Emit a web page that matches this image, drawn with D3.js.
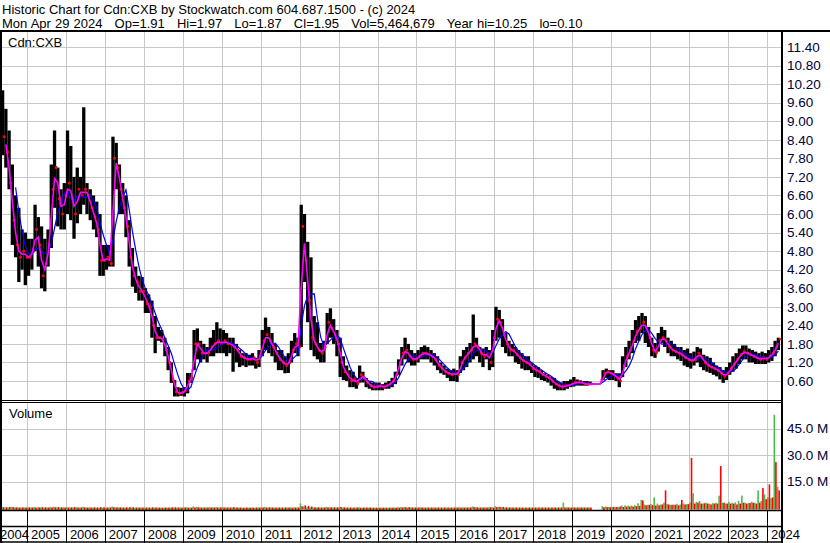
<!DOCTYPE html>
<html><head><meta charset="utf-8">
<script src="https://cdn.jsdelivr.net/npm/d3@7"></script>
<style>
html,body{margin:0;padding:0;background:#fff;}
svg{display:block;font-family:"Liberation Sans",Arial,sans-serif;}
</style></head><body>
<svg id="c" width="830" height="543"></svg>
<script>
// ---------- data (monthly, May 2004 .. Apr 2024) ----------
const startYear = 2004, startMonth = 4; // May 2004
const hi = [
 10.0,9.4,8.7,7.6,6.6,6.2,5.5,5.4,
 5.2,5.2,6.3,5.9,5.6,5.2,5.5,7.6,8.7,7.5,6.8,7.0,
 8.7,8.2,7.2,7.5,7.2,9.45,7.0,6.8,6.6,6.4,6.0,5.0,
 5.0,5.0,8.5,8.3,7.6,7.0,6.6,5.8,4.9,4.3,4.0,3.96,
 3.6,3.4,3.2,2.7,2.35,2.25,2.0,1.7,1.2,0.63,0.4,0.38,
 0.4,0.86,0.86,2.25,2.3,1.9,1.8,1.7,2.0,2.25,2.5,2.3,
 2.25,2.15,2.0,2.0,1.8,1.6,1.5,1.5,1.45,1.5,1.35,1.6,
 2.25,2.65,2.35,2.15,1.8,1.6,1.6,1.4,1.5,1.9,2.15,2.0,
 6.3,6.0,5.1,4.6,2.7,2.5,1.83,1.9,2.8,2.95,2.6,2.25,
 2.0,1.4,1.1,0.95,0.9,0.7,1.1,0.9,0.7,0.6,0.55,0.55,
 0.55,0.5,0.55,0.6,0.7,0.9,1.3,1.7,2.0,1.8,1.6,1.5,
 1.6,1.7,1.75,1.7,1.6,1.5,1.4,1.2,1.1,1.0,0.95,1.0,
 0.95,1.4,1.6,1.7,1.83,2.75,2.0,1.7,1.65,1.7,1.6,2.25,
 3.0,2.9,2.6,2.15,1.9,1.8,1.7,1.6,1.5,1.4,1.4,1.2,
 1.1,1.05,0.95,0.85,0.8,0.73,0.7,0.6,0.55,0.6,0.6,0.65,
 0.73,0.65,0.62,0.6,0.6,0.58,null,null,null,0.95,1.0,0.95,
 0.95,0.85,0.85,1.4,1.7,1.9,2.25,2.57,2.7,2.8,2.7,2.35,
 2.0,1.83,2.15,2.35,2.25,2.0,1.9,1.8,1.7,1.7,1.6,1.65,
 1.5,1.55,1.7,1.65,1.45,1.4,1.35,1.2,1.1,1.05,0.95,1.05,
 1.2,1.4,1.5,1.65,1.75,1.75,1.65,1.6,1.55,1.5,1.55,1.5,
 1.6,1.7,1.9,2.0
];
const lo = [
 7.9,7.5,6.8,5.0,4.6,3.8,4.2,3.7,
 4.0,4.2,4.8,4.3,3.6,3.5,4.3,4.9,6.2,5.6,5.5,5.5,
 6.0,5.8,5.2,5.7,6.0,6.3,6.0,5.8,5.5,5.25,4.0,4.0,
 4.2,4.3,4.3,6.8,6.0,6.0,5.25,4.3,3.65,3.45,3.2,3.2,
 2.8,2.8,2.0,1.5,1.9,1.85,1.4,0.95,0.54,0.1,0.1,0.12,
 0.1,0.2,0.54,0.95,1.3,1.2,1.3,1.2,1.4,1.4,1.5,1.5,
 1.5,1.4,1.5,0.9,1.2,1.05,1.1,1.05,1.1,1.1,1.0,1.05,
 1.4,1.6,1.5,1.4,1.2,0.95,0.95,0.85,0.86,1.2,1.5,1.4,
 1.7,3.8,2.5,1.6,1.4,1.3,1.2,1.2,1.8,2.0,1.8,1.4,
 0.73,0.63,0.6,0.4,0.4,0.35,0.55,0.55,0.4,0.35,0.3,0.3,
 0.3,0.3,0.35,0.35,0.4,0.5,0.8,1.1,1.3,1.2,1.1,1.1,
 1.2,1.3,1.3,1.3,1.2,1.1,0.95,0.85,0.8,0.7,0.6,0.6,
 0.57,0.86,0.95,1.05,1.2,1.3,1.4,1.2,1.05,1.3,0.95,1.05,
 1.9,2.0,1.7,1.5,1.4,1.4,1.2,1.15,1.0,0.95,0.95,0.86,
 0.73,0.7,0.63,0.6,0.55,0.45,0.35,0.3,0.3,0.3,0.35,0.4,
 0.42,0.45,0.45,0.45,0.45,0.48,null,null,null,0.63,0.7,0.63,
 0.63,0.6,0.4,0.73,1.05,1.3,1.5,1.83,1.9,2.15,1.83,1.7,
 1.4,1.35,1.55,1.83,1.7,1.5,1.4,1.4,1.3,1.25,1.1,1.05,
 1.0,1.1,1.2,1.05,0.95,0.9,0.86,0.8,0.75,0.65,0.54,0.63,
 0.8,0.9,1.0,1.15,1.3,1.3,1.2,1.2,1.15,1.15,1.15,1.15,
 1.2,1.25,1.4,1.6
];
const close = [
 8.5,8.0,7.0,5.8,5.0,4.6,4.8,4.6,
 4.6,4.8,5.5,5.0,4.0,4.4,5.0,6.8,7.5,6.5,6.0,6.6,
 7.0,6.5,6.0,6.8,6.6,6.8,6.6,6.2,5.9,5.5,4.5,4.5,
 4.6,4.4,7.8,7.5,6.8,6.2,5.6,4.6,4.0,3.8,3.5,3.5,
 3.1,3.0,2.4,2.0,2.0,1.95,1.6,1.2,0.7,0.25,0.2,0.22,
 0.3,0.6,0.7,1.8,1.8,1.5,1.5,1.5,1.7,1.8,1.9,1.8,
 1.9,1.8,1.8,1.7,1.6,1.4,1.35,1.3,1.3,1.35,1.2,1.4,
 1.9,2.1,1.9,1.7,1.5,1.3,1.2,1.1,1.2,1.6,1.8,1.7,
 5.6,4.5,3.2,2.0,1.8,1.6,1.5,1.7,2.5,2.3,2.1,1.8,
 1.2,0.9,0.8,0.6,0.65,0.5,0.8,0.7,0.55,0.45,0.4,0.42,
 0.45,0.4,0.45,0.5,0.6,0.8,1.2,1.5,1.6,1.4,1.3,1.3,
 1.4,1.5,1.5,1.45,1.4,1.3,1.1,1.0,0.9,0.85,0.8,0.85,
 0.8,1.2,1.35,1.5,1.6,1.8,1.7,1.5,1.4,1.5,1.2,2.0,
 2.6,2.5,2.1,1.8,1.6,1.6,1.45,1.35,1.25,1.2,1.15,1.0,
 0.95,0.9,0.8,0.75,0.7,0.6,0.5,0.45,0.4,0.45,0.45,0.5,
 0.55,0.55,0.55,0.5,0.5,0.5,0.5,0.5,0.5,0.85,0.9,0.85,
 0.8,0.7,0.6,1.1,1.4,1.6,1.9,2.2,2.3,2.5,2.3,2.0,
 1.6,1.5,1.9,2.0,1.9,1.7,1.6,1.55,1.5,1.45,1.35,1.3,
 1.25,1.3,1.5,1.35,1.2,1.1,1.05,1.0,0.95,0.85,0.75,0.85,
 1.0,1.15,1.3,1.45,1.55,1.5,1.45,1.4,1.35,1.3,1.35,1.3,
 1.4,1.5,1.7,1.95
];
// volume, millions: largest up-day and down-day bar per month
const volUp = [
 0.4,0.3,0.3,0.5,0.3,0.4,0.3,0.3,
 0.3,0.4,0.5,0.3,0.3,0.2,0.3,0.6,0.7,0.4,0.3,0.4,
 0.5,0.3,0.3,0.4,0.3,0.6,0.3,0.3,0.2,0.3,0.2,0.2,
 0.2,0.3,0.8,0.4,0.3,0.3,0.2,0.2,0.2,0.2,0.3,0.2,
 0.2,0.2,0.2,0.2,0.3,0.2,0.2,0.2,0.2,0.3,0.2,0.3,
 0.4,0.5,0.3,0.9,0.6,0.3,0.3,0.3,0.4,0.4,0.5,0.3,
 0.4,0.3,0.3,0.3,0.2,0.2,0.2,0.2,0.2,0.3,0.2,0.3,
 0.5,0.6,0.3,0.3,0.2,0.2,0.2,0.2,0.3,0.4,0.4,0.3,
 2.6,0.8,0.4,0.3,0.3,0.3,0.2,0.3,0.6,0.4,0.3,0.3,
 0.3,0.2,0.2,0.2,0.2,0.2,0.4,0.2,0.2,0.2,0.2,0.2,
 0.2,0.2,0.2,0.2,0.3,0.3,0.5,0.6,0.6,0.3,0.3,0.3,
 0.3,0.3,0.3,0.3,0.2,0.2,0.2,0.2,0.2,0.2,0.2,0.2,
 0.3,0.4,0.4,0.4,0.4,0.9,0.4,0.3,0.3,0.3,0.3,0.6,
 1.0,0.7,0.4,0.3,0.3,0.3,0.2,0.2,0.2,0.2,0.2,0.2,
 0.3,0.2,0.2,0.2,0.2,0.2,0.2,0.2,0.3,3.1,0.4,0.3,
 0.4,0.3,0.3,0.3,0.3,0.3,0,0,0,1.0,0.8,0.6,
 0.5,0.5,0.6,1.4,1.5,1.4,1.4,1.6,2.7,4.6,2.0,1.8,
 2.2,6.0,2.5,2.0,3.0,2.2,1.8,2.0,2.4,2.0,2.5,2.2,
 3.0,8.3,3.5,4.0,2.5,3.0,2.5,2.8,3.0,7.0,3.0,2.5,
 3.5,3.0,3.2,4.0,7.0,3.0,2.8,3.5,3.0,10.0,4.0,7.7,
 6.0,5.5,52.8,12.0
];
const volDown = [
 0.5,0.4,0.6,0.5,0.4,0.3,0.4,0.3,
 0.4,0.3,0.3,0.4,0.5,0.4,0.3,0.3,0.4,0.5,0.4,0.3,
 0.3,0.4,0.5,0.3,0.3,0.4,0.3,0.3,0.4,0.3,0.5,0.4,
 0.3,0.3,0.4,0.4,0.4,0.3,0.4,0.5,0.4,0.3,0.3,0.3,
 0.3,0.3,0.4,0.3,0.2,0.2,0.3,0.3,0.4,0.4,0.3,0.2,
 0.3,0.2,0.2,0.3,0.4,0.3,0.3,0.3,0.3,0.3,0.3,0.4,
 0.3,0.3,0.3,0.5,0.3,0.3,0.2,0.3,0.2,0.2,0.3,0.2,
 0.3,0.3,0.4,0.3,0.3,0.3,0.3,0.3,0.3,0.2,0.3,0.3,
 1.0,1.5,1.2,0.8,0.4,0.4,0.3,0.3,0.3,0.4,0.4,0.4,
 0.6,0.4,0.3,0.3,0.3,0.3,0.2,0.3,0.3,0.3,0.2,0.2,
 0.2,0.2,0.2,0.2,0.2,0.2,0.2,0.3,0.4,0.5,0.3,0.3,
 0.3,0.3,0.2,0.3,0.3,0.3,0.3,0.3,0.3,0.3,0.3,0.3,
 0.3,0.2,0.2,0.3,0.3,0.5,0.4,0.3,0.3,0.3,0.4,0.2,
 0.5,0.6,0.6,0.4,0.3,0.3,0.3,0.3,0.3,0.3,0.3,0.3,
 0.3,0.3,0.3,0.3,0.3,0.3,0.3,0.3,0.3,0.3,0.3,0.3,
 0.3,0.3,0.3,0.3,0.3,0.3,0,0,0,0.4,0.5,0.5,
 0.6,0.6,0.8,0.6,0.8,0.8,0.8,1.0,1.2,4.3,1.5,1.8,
 1.6,1.4,1.5,2.0,10.0,2.0,1.8,1.8,1.5,4.6,2.0,2.2,
 28.4,2.5,3.0,2.5,2.7,2.5,2.0,2.5,2.5,23.8,3.0,2.5,
 2.5,2.5,2.0,2.5,3.0,2.5,2.8,3.0,2.5,3.0,11.3,5.0,
 13.4,6.0,26.0,10.0
];
const priceTicks = [0.60,1.20,1.80,2.40,3.00,3.60,4.20,4.80,5.40,6.00,6.60,7.20,7.80,8.40,9.00,9.60,10.20,10.80,11.40];
const volTicks = [15,30,45];
const yearLabels = ["2004","2005","2006","2007","2008","2009","2010","2011","2012","2013","2014","2015","2016","2017","2018","2019","2020","2021","2022","2023","2024"];
const titleLine1 = "Historic Chart for Cdn:CXB by Stockwatch.com 604.687.1500 - (c) 2024";
const titleLine2 = "Mon Apr 29 2024   Op=1.91   Hi=1.97   Lo=1.87   Cl=1.95   Vol=5,464,679   Year hi=10.25   lo=0.10";

// ---------- layout ----------
const L = 2, R = 781;
const pTop = 32, pBot = 400;
const vTop = 403, vBot = 510;
const svg = d3.select("#c");
svg.append("rect").attr("width",830).attr("height",543).attr("fill","#fff");

const x = d3.scaleLinear().domain([2004, 2024]).range([-12, 767]);
const yP = d3.scaleLinear().domain([0.6, 11.4]).range([381, 47]);
const yV = d3.scaleLinear().domain([0, 45]).range([508, 428.6]);

const n = close.length;
const tOf = i => startYear + (startMonth + i + 0.5) / 12;
const data = d3.range(n).map(i => ({i, t: tOf(i), hi: hi[i], lo: lo[i], c: close[i],
  o: i > 0 ? close[i-1] : close[i], vu: volUp[i], vd: volDown[i]}));

const grid = "#c8c8c8";
const yearVals = yearLabels.map(d => +d);

const defs = svg.append("defs");
defs.append("clipPath").attr("id","cp").append("rect").attr("x",L).attr("y",pTop).attr("width",R-L).attr("height",pBot-pTop);
defs.append("clipPath").attr("id","cv").append("rect").attr("x",L).attr("y",vTop).attr("width",R-L).attr("height",vBot-vTop);

// ---------- price panel ----------
const gp = svg.append("g").attr("clip-path","url(#cp)");
gp.selectAll("line.hg").data(priceTicks).join("line")
  .attr("x1",L).attr("x2",R).attr("y1",d=>Math.round(yP(d))+0.5).attr("y2",d=>Math.round(yP(d))+0.5)
  .attr("stroke",grid).attr("stroke-width",1);
gp.selectAll("line.vg").data(yearVals.slice(1)).join("line")
  .attr("x1",d=>Math.round(x(d))+0.5).attr("x2",d=>Math.round(x(d))+0.5).attr("y1",pTop).attr("y2",pBot)
  .attr("stroke",grid).attr("stroke-width",1);

const bars = data.filter(d => d.hi != null);
gp.selectAll("rect.bar").data(bars).join("rect")
  .attr("x", d => x(d.t) - 1.65).attr("width", 3.3)
  .attr("y", d => yP(d.hi)).attr("height", d => Math.max(1, yP(d.lo) - yP(d.hi)))
  .attr("fill", "#000");
gp.selectAll("rect.cl").data(bars).join("rect")
  .attr("x", d => x(d.t) + 0.3).attr("width", 2.2)
  .attr("y", d => yP(d.c) - 1.2).attr("height", 2.4).attr("fill", "#ff0000");
gp.selectAll("rect.op").data(bars).join("rect")
  .attr("x", d => x(d.t) - 2.5).attr("width", 2.2)
  .attr("y", d => yP(Math.min(d.hi, Math.max(d.lo, d.o))) - 1.2).attr("height", 2.4).attr("fill", "#ff0000");

function sma(k) {
  return data.map((d, i) => {
    if (i < k - 1) return null;
    return {t: d.t, v: d3.mean(close.slice(i - k + 1, i + 1))};
  }).filter(Boolean);
}
const line = d3.line().x(d => x(d.t)).y(d => yP(d.v));
gp.append("path").datum(sma(5)).attr("d", line).attr("fill","none").attr("stroke","#0000ff").attr("stroke-width",1.2);
gp.append("path").datum(sma(2)).attr("d", line).attr("fill","none").attr("stroke","#ff00ff").attr("stroke-width",1.6);

// ---------- volume panel ----------
const gv = svg.append("g").attr("clip-path","url(#cv)");
gv.selectAll("line.hg").data(volTicks).join("line")
  .attr("x1",L).attr("x2",R).attr("y1",d=>Math.round(yV(d))+0.5).attr("y2",d=>Math.round(yV(d))+0.5)
  .attr("stroke",grid);
gv.selectAll("line.vg").data(yearVals.slice(1)).join("line")
  .attr("x1",d=>Math.round(x(d))+0.5).attr("x2",d=>Math.round(x(d))+0.5).attr("y1",vTop).attr("y2",vBot)
  .attr("stroke",grid);
gv.selectAll("rect.vu").data(data.filter(d=>d.vu>0)).join("rect")
  .attr("x", d => x(d.t) - 1.6).attr("width", 1.6)
  .attr("y", d => yV(d.vu)).attr("height", d => Math.max(1.2, yV(0) - yV(d.vu)) + 1.5)
  .attr("fill", "#4cbb4c");
gv.selectAll("rect.vd").data(data.filter(d=>d.vd>0)).join("rect")
  .attr("x", d => x(d.t)).attr("width", 1.6)
  .attr("y", d => yV(d.vd)).attr("height", d => Math.max(1.2, yV(0) - yV(d.vd)) + 1.5)
  .attr("fill", "#ff0000");

// ---------- frame ----------
const blk = "#000";
function hline(y, x1, x2, w) { svg.append("line").attr("x1",x1).attr("x2",x2).attr("y1",y).attr("y2",y).attr("stroke",blk).attr("stroke-width",w); }
function vline(xx, y1, y2, w) { svg.append("line").attr("x1",xx).attr("x2",xx).attr("y1",y1).attr("y2",y2).attr("stroke",blk).attr("stroke-width",w); }
hline(31, 0, 830, 2);
hline(400.5, 0, R, 1);
hline(402.5, 0, R, 1);
hline(510.5, 0, R, 1.5);
hline(526.5, 0, R, 1.5);
hline(542, 0, R + 1, 1.5);
vline(1, 31, 543, 2);
vline(782, 31, 543, 2);

svg.selectAll("line.ys").data(yearVals.slice(1)).join("line")
  .attr("x1",d=>Math.round(x(d))+0.5).attr("x2",d=>Math.round(x(d))+0.5).attr("y1",511).attr("y2",543)
  .attr("stroke",blk).attr("stroke-width",1);

// year labels
const yl = svg.selectAll("text.yl").data(yearVals).join("text")
  .attr("y", 539).attr("font-size", 13).attr("fill", "#000").text((d,i) => yearLabels[i]);
let prevEnd = -Infinity;
yl.each(function(d) {
  const w = this.getComputedTextLength();
  let px = x(d) + 4;
  if (px < 0) px = 0;
  if (d === 2023) px = x(d) + 2;
  if (px < prevEnd) px = prevEnd;
  prevEnd = px + w;
  d3.select(this).attr("x", px);
});

// axis labels
const axP = d3.axisRight(yP).tickValues(priceTicks).tickFormat(d3.format(".2f")).tickSize(0).tickPadding(0);
const gaxp = svg.append("g").attr("transform","translate(787,0)").call(axP);
gaxp.select(".domain").remove();
gaxp.selectAll("text").attr("font-size",13.5).attr("font-family","Liberation Sans, Arial, sans-serif").attr("fill","#00003a").attr("x",0);

const axV = d3.axisRight(yV).tickValues(volTicks).tickFormat(d => d3.format(".1f")(d) + " M").tickSize(0).tickPadding(0);
const gaxv = svg.append("g").attr("transform","translate(787,0)").call(axV);
gaxv.select(".domain").remove();
gaxv.selectAll("text").attr("font-size",13.5).attr("font-family","Liberation Sans, Arial, sans-serif").attr("fill","#00003a").attr("x",0);

// titles
svg.append("text").attr("x",2).attr("y",14).attr("font-size",13).attr("fill","#000").style("white-space","pre").text(titleLine1);
svg.append("text").attr("x",2).attr("y",28).attr("font-size",13).attr("fill","#000").style("white-space","pre").style("word-spacing","0.45px").text(titleLine2);
svg.append("text").attr("x",8).attr("y",47).attr("font-size",13).attr("fill","#000").text("Cdn:CXB");
svg.append("text").attr("x",9).attr("y",418).attr("font-size",13).attr("fill","#000").text("Volume");
</script>
</body></html>
